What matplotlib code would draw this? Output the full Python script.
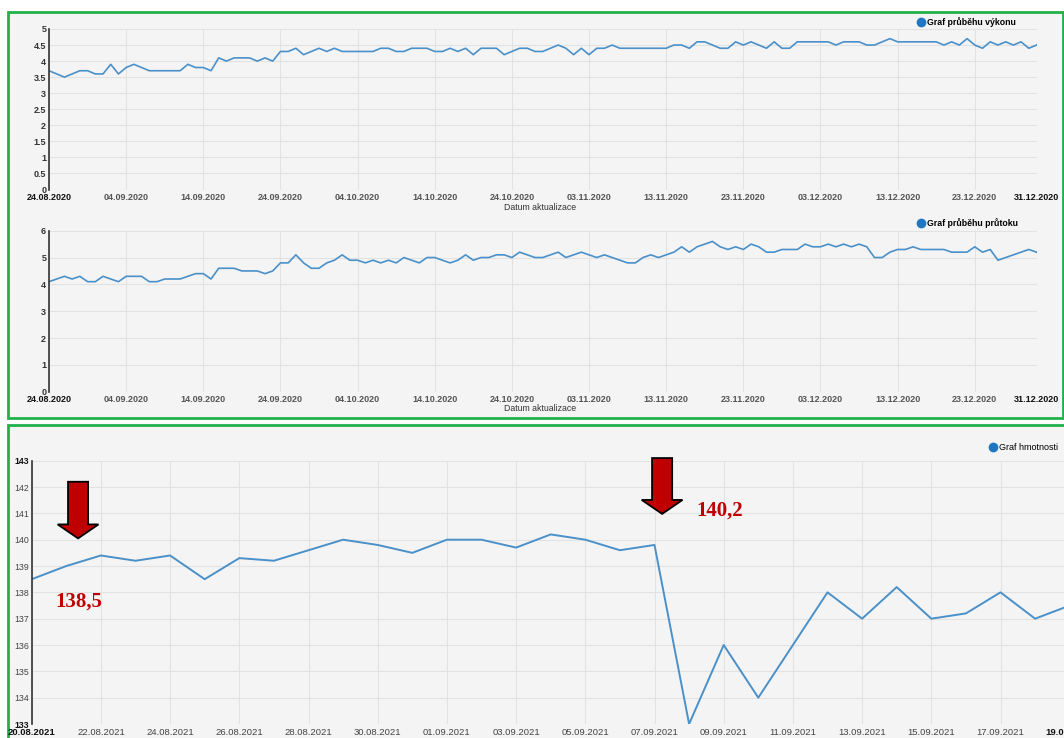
import numpy as np
import matplotlib.pyplot as plt
from matplotlib.patches import Rectangle, Polygon
from matplotlib.lines import Line2D

plt.rcParams['font.family'] = 'Liberation Sans'

# --- data (one value per measurement) ---
vykon = [3.7, 3.6, 3.5, 3.6, 3.7, 3.7, 3.6, 3.6, 3.9, 3.6,
         3.8, 3.9, 3.8, 3.7, 3.7, 3.7, 3.7, 3.7, 3.9, 3.8,
         3.8, 3.7, 4.1, 4.0, 4.1, 4.1, 4.1, 4.0, 4.1, 4.0,
         4.3, 4.3, 4.4, 4.2, 4.3, 4.4, 4.3, 4.4, 4.3, 4.3,
         4.3, 4.3, 4.3, 4.4, 4.4, 4.3, 4.3, 4.4, 4.4, 4.4,
         4.3, 4.3, 4.4, 4.3, 4.4, 4.2, 4.4, 4.4, 4.4, 4.2,
         4.3, 4.4, 4.4, 4.3, 4.3, 4.4, 4.5, 4.4, 4.2, 4.4,
         4.2, 4.4, 4.4, 4.5, 4.4, 4.4, 4.4, 4.4, 4.4, 4.4,
         4.4, 4.5, 4.5, 4.4, 4.6, 4.6, 4.5, 4.4, 4.4, 4.6,
         4.5, 4.6, 4.5, 4.4, 4.6, 4.4, 4.4, 4.6, 4.6, 4.6,
         4.6, 4.6, 4.5, 4.6, 4.6, 4.6, 4.5, 4.5, 4.6, 4.7,
         4.6, 4.6, 4.6, 4.6, 4.6, 4.6, 4.5, 4.6, 4.5, 4.7,
         4.5, 4.4, 4.6, 4.5, 4.6, 4.5, 4.6, 4.4, 4.5]

prutok = [4.1, 4.2, 4.3, 4.2, 4.3, 4.1, 4.1, 4.3, 4.2, 4.1,
          4.3, 4.3, 4.3, 4.1, 4.1, 4.2, 4.2, 4.2, 4.3, 4.4,
          4.4, 4.2, 4.6, 4.6, 4.6, 4.5, 4.5, 4.5, 4.4, 4.5,
          4.8, 4.8, 5.1, 4.8, 4.6, 4.6, 4.8, 4.9, 5.1, 4.9,
          4.9, 4.8, 4.9, 4.8, 4.9, 4.8, 5.0, 4.9, 4.8, 5.0,
          5.0, 4.9, 4.8, 4.9, 5.1, 4.9, 5.0, 5.0, 5.1, 5.1,
          5.0, 5.2, 5.1, 5.0, 5.0, 5.1, 5.2, 5.0, 5.1, 5.2,
          5.1, 5.0, 5.1, 5.0, 4.9, 4.8, 4.8, 5.0, 5.1, 5.0,
          5.1, 5.2, 5.4, 5.2, 5.4, 5.5, 5.6, 5.4, 5.3, 5.4,
          5.3, 5.5, 5.4, 5.2, 5.2, 5.3, 5.3, 5.3, 5.5, 5.4,
          5.4, 5.5, 5.4, 5.5, 5.4, 5.5, 5.4, 5.0, 5.0, 5.2,
          5.3, 5.3, 5.4, 5.3, 5.3, 5.3, 5.3, 5.2, 5.2, 5.2,
          5.4, 5.2, 5.3, 4.9, np.nan, np.nan, np.nan, 5.3, 5.2]

ticks_2020 = [0, 10, 20, 30, 40, 50, 60, 70, 80, 90, 100, 110, 120, 128]
labels_2020 = ['24.08.2020', '04.09.2020', '14.09.2020', '24.09.2020', '04.10.2020',
               '14.10.2020', '24.10.2020', '03.11.2020', '13.11.2020', '23.11.2020',
               '03.12.2020', '13.12.2020', '23.12.2020', '31.12.2020']

hmotnost = [138.5, 139.0, 139.4, 139.2, 139.4, 138.5, 139.3, 139.2, 139.6, 140.0,
            139.8, 139.5, 140.0, 140.0, 139.7, 140.2, 140.0, 139.6, 139.8, 133.0,
            136.0, 134.0, 136.0, 138.0, 137.0, 138.2, 137.0, 137.2, 138.0, 137.0,
            137.5]
labels_2021 = ['20.08.2021', '22.08.2021', '24.08.2021', '26.08.2021', '28.08.2021',
               '30.08.2021', '01.09.2021', '03.09.2021', '05.09.2021', '07.09.2021',
               '09.09.2021', '11.09.2021', '13.09.2021', '15.09.2021', '17.09.2021',
               '19.09.2021']

W, H = 1064, 738
BG = '#f4f4f4'
GRID = '#e2e2e2'
LINE = '#4a90c9'
GREEN = '#21b14b'
RED = '#c00000'

fig = plt.figure(figsize=(W / 100, H / 100), dpi=100)
fig.patch.set_facecolor('white')


def px_axes(left, top, right, bottom):
    return fig.add_axes([left / W, 1 - bottom / H, (right - left) / W, (bottom - top) / H])


def box(left, top, right, bottom):
    r = Rectangle((left / W, 1 - bottom / H), (right - left) / W, (bottom - top) / H,
                  transform=fig.transFigure, facecolor=BG, edgecolor=GREEN, lw=2, zorder=-5)
    fig.add_artist(r)


def style(ax, fs):
    ax.set_facecolor(BG)
    for s in ['top', 'right', 'bottom']:
        ax.spines[s].set_visible(False)
    ax.spines['left'].set_color('#333333')
    ax.spines['left'].set_linewidth(1.2)
    ax.grid(True, color=GRID, lw=0.8)
    ax.set_axisbelow(True)
    ax.tick_params(length=0, labelsize=fs, colors='#333333')


def legend(ax, text, x, y, bold=True, fs=6.3):
    h = Line2D([], [], marker='o', ls='', color='#1f77c4', ms=6)
    ax.legend([h], [text], loc='center left', bbox_to_anchor=(x / W, 1 - y / H),
              bbox_transform=fig.transFigure, frameon=False, handlelength=0.8,
              handletextpad=0.3, borderpad=0, borderaxespad=0,
              prop={'size': fs, 'weight': 'bold' if bold else 'normal'})


def end_bold(labels, color_mid='#555555'):
    for i, t in enumerate(labels):
        t.set_fontweight('bold')
        if i == 0 or i == len(labels) - 1:
            t.set_color('#111111')
        else:
            t.set_color(color_mid)


box(7.5, 12, 1063, 418)
box(7.5, 425, 1075, 760)

# --- chart 1: výkon ---
x1 = np.arange(len(vykon))
ax1 = px_axes(49, 29, 1036.5, 189.5)
style(ax1, 6.5)
ax1.plot(x1, vykon, color=LINE, lw=1.2)
ax1.set_xlim(0, 128)
ax1.set_ylim(0, 5)
ax1.set_yticks(np.arange(0, 5.01, 0.5))
ax1.set_yticklabels(['0', '0.5', '1', '1.5', '2', '2.5', '3', '3.5', '4', '4.5', '5'])
ax1.set_xticks(ticks_2020)
ax1.set_xticklabels(labels_2020)
ax1.tick_params(axis='x', pad=2.5)
ax1.tick_params(axis='y', pad=2)
end_bold(ax1.get_xticklabels())
for t in ax1.get_yticklabels():
    t.set_fontweight('bold')
legend(ax1, 'Graf průběhu výkonu', 917, 22)
fig.text(540 / W, 1 - 207.5 / H, 'Datum aktualizace', ha='center', va='center',
         fontsize=6.3, color='#333333')

# --- chart 2: průtok ---
p = np.array(prutok)
m = ~np.isnan(p)
x2 = np.arange(len(prutok))
ax2 = px_axes(49, 230.7, 1036.5, 391.7)
style(ax2, 6.5)
ax2.plot(x2[m], p[m], color=LINE, lw=1.2)
ax2.set_xlim(0, 128)
ax2.set_ylim(0, 6)
ax2.set_yticks(range(0, 7))
ax2.set_xticks(ticks_2020)
ax2.set_xticklabels(labels_2020)
ax2.tick_params(axis='x', pad=2.5)
ax2.tick_params(axis='y', pad=2)
end_bold(ax2.get_xticklabels())
for t in ax2.get_yticklabels():
    t.set_fontweight('bold')
legend(ax2, 'Graf průběhu průtoku', 917, 223)
fig.text(540 / W, 1 - 408.5 / H, 'Datum aktualizace', ha='center', va='center',
         fontsize=6.3, color='#333333')

# --- chart 3: hmotnost ---
x3 = np.arange(len(hmotnost))
ax3 = px_axes(31.7, 460.7, 1069.7, 724)
style(ax3, 6.3)
ax3.plot(x3, hmotnost, color=LINE, lw=1.4)
ax3.set_xlim(0, 30)
ax3.set_ylim(133, 143)
ax3.set_yticks(range(133, 144))
ax3.set_xticks(range(0, 31, 2))
ax3.set_xticklabels(labels_2021)
ax3.tick_params(axis='x', pad=3, labelsize=6.8)
ax3.tick_params(axis='y', pad=2)
xl = ax3.get_xticklabels()
for i, t in enumerate(xl):
    if i in (0, len(xl) - 1):
        t.set_fontweight('bold')
        t.set_color('#111111')
    else:
        t.set_color('#444444')
yl = ax3.get_yticklabels()
for i, t in enumerate(yl):
    if i in (0, len(yl) - 1):
        t.set_fontweight('bold')
        t.set_color('#111111')
    else:
        t.set_color('#444444')
legend(ax3, 'Graf hmotnosti', 989, 448, bold=False, fs=6.5)


def down_arrow(ax, x_tip, y_tip, y_top, shaft_w, head_w, head_len):
    y_head = y_tip + head_len
    pts = [(x_tip - shaft_w / 2, y_top), (x_tip + shaft_w / 2, y_top),
           (x_tip + shaft_w / 2, y_head), (x_tip + head_w / 2, y_head),
           (x_tip, y_tip), (x_tip - head_w / 2, y_head),
           (x_tip - shaft_w / 2, y_head)]
    ax.add_patch(Polygon(pts, closed=True, facecolor=RED, edgecolor='black',
                         lw=1.3, clip_on=False, zorder=5))


down_arrow(ax3, 1.34, 140.05, 142.2, 0.58, 1.18, 0.53)
down_arrow(ax3, 18.22, 140.98, 143.1, 0.58, 1.18, 0.53)
ax3.text(1.37, 137.66, '138,5', ha='center', va='center', color=RED,
         fontsize=15, fontweight='bold', family='Liberation Serif')
ax3.text(19.2, 141.09, '140,2', ha='left', va='center', color=RED,
         fontsize=15, fontweight='bold', family='Liberation Serif')

fig.savefig('out.png', dpi=100)
